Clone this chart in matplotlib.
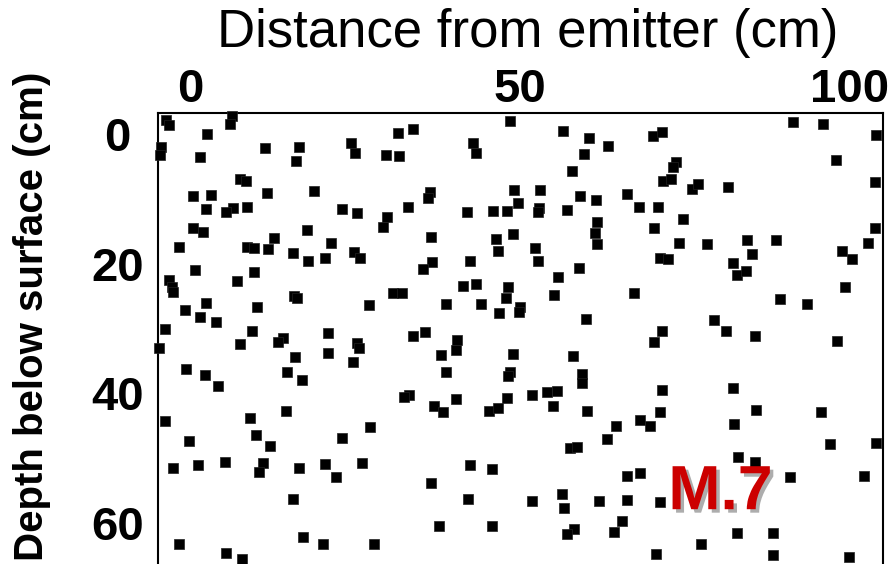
import matplotlib.pyplot as plt
import matplotlib.patheffects as pe

plt.rcParams['font.family'] = ['Liberation Sans', 'DejaVu Sans']

# distance from emitter (cm) and depth below surface (cm) of each sample point
dist = [-3.6, -3.2, 6.4, 6.1, 2.6, -4.4, -4.5, 1.5, 11.4, 16.5, 16.1, 7.6, 8.5, 0.5, 3.2,
        11.7, 18.8, 2.4, 6.5, 5.5, 8.6, 0.5, 2.0, 12.7, 17.7, 21.4, -1.7, 8.6, 9.7, 11.8,
        15.6, 17.9, 20.5, 48.5, 31.5, 33.8, 24.4, 25.0, 29.7, 31.7, 42.9, 43.3, 36.4, 36.1,
        49.1, 23.0, 25.3, 29.8, 29.2, 33.0, 42.0, 45.9, 48.0, 36.5, 46.4, 46.7, 48.9, 24.8,
        25.8, 36.7, 35.3, 42.4, 56.5, 60.5, 63.3, 59.7, 70.2, 71.5, 73.6, 73.2, 57.9, 71.7,
        72.9, 76.1, 53.0, 49.7, 52.9, 52.7, 57.1, 59.1, 61.5, 66.2, 68.0, 70.9, 61.7, 61.4,
        61.7, 74.7, 70.3, 74.1, 52.3, 52.7, 71.2, 72.4, 91.4, 95.9, 103.9, 97.9, 103.8, 77.0,
        81.5, 103.8, 102.7, 78.3, 84.4, 85.2, 88.8, 98.8, 100.3, 82.3, 0.8, 7.1, 9.7, -3.2,
        -2.7, -2.6, 15.8, 16.2, -0.8, 2.4, 1.5, 3.9, 10.2, -3.8, 9.4, 7.6, 14.1, 13.3, 20.9,
        20.9, -4.7, 15.9, -0.6, 2.3, 14.7, 17.0, 4.2, 14.5, 41.4, 43.3, 48.2, 47.9, 46.8,
        30.8, 32.1, 27.1, 38.8, 44.1, 35.6, 33.8, 25.3, 25.6, 40.5, 40.3, 38.0, 24.7, 38.8,
        48.5, 48.2, 48.9, 33.2, 32.4, 37.0, 38.3, 40.3, 48.0, 45.3, 46.7, 58.9, 55.8, 50.0,
        49.8, 55.2, 67.3, 60.0, 71.5, 70.3, 58.0, 59.4, 59.4, 71.5, 51.8, 54.1, 55.6, 55.0,
        60.2, 71.2, 82.9, 84.2, 99.2, 89.4, 93.5, 79.4, 81.2, 85.6, 98.0, 82.3, 85.8, 95.6,
        -3.8, 9.1, -0.2, 10.0, 12.1, -2.6, 1.2, 5.3, 11.1, 10.5, 16.5, 20.5, 22.1, 15.6,
        -1.7, 17.1, 20.2, 5.5, 7.9, 27.3, 23.0, 26.1, 42.4, 45.8, 36.5, 42.1, 37.7, 45.8,
        27.9, 64.5, 68.2, 69.7, 63.2, 57.6, 58.6, 66.2, 68.2, 51.8, 56.4, 56.7, 62.0, 66.2,
        71.2, 65.5, 64.2, 58.2, 57.1, 70.6, 82.4, 97.0, 103.9, 83.0, 85.6, 90.9, 102.1,
        82.9, 88.3, 77.4, 88.3, 99.8]
depth = [-2.2, -1.4, -2.8, -1.5, 0.0, 2.0, 3.2, 3.5, 2.2, 2.0, 4.2, 6.9, 7.3, 9.6, 9.4,
         9.1, 8.8, 11.6, 11.4, 12.0, 11.3, 14.5, 15.1, 16.0, 14.8, 16.8, 17.4, 17.4, 17.6, 17.7,
         18.4, 19.6, 19.1, -2.0, -0.2, -0.8, 1.4, 2.9, 3.2, 3.4, 1.4, 2.9, 9.0, 9.9,
         8.6, 11.6, 12.2, 12.8, 14.4, 11.3, 12.0, 11.9, 11.9, 15.9, 16.2, 18.1, 15.4, 18.2,
         19.1, 19.8, 20.8, 19.6, -0.5, 0.6, 1.9, 3.1, 0.3, -0.3, 4.3, 5.1, 5.7, 7.3,
         6.9, 8.5, 8.6, 10.6, 11.4, 12.0, 11.7, 9.6, 10.2, 9.3, 11.3, 11.3, 13.6, 15.3,
         17.0, 13.1, 14.5, 16.8, 17.6, 19.6, 19.1, 19.3, -1.9, -1.5, 0.2, 4.0, 7.4, 7.7,
         8.2, 14.5, 16.8, 17.0, 16.4, 18.5, 16.4, 18.1, 19.3, 19.9, 21.0, 22.7, 21.3, 22.5,
         23.6, 24.4, 25.0, 25.3, 27.2, 26.1, 28.2, 29.0, 26.7, 30.1, 30.4, 32.4, 31.5, 32.1, 30.7,
         33.8, 33.0, 34.4, 36.3, 37.2, 36.7, 38.0, 38.9, 42.7, 23.5, 23.1, 23.6, 25.3, 27.6,
         24.5, 24.5, 26.4, 26.2, 26.2, 30.6, 31.2, 32.3, 33.0, 31.8, 33.3, 34.1, 35.2, 36.7,
         36.7, 37.3, 34.0, 40.3, 40.6, 42.0, 42.9, 40.9, 40.7, 42.7, 42.3, 20.7, 22.1, 26.7,
         27.5, 24.8, 24.5, 28.5, 30.4, 32.1, 34.3, 37.0, 38.4, 39.5, 40.3, 39.8, 39.7, 42.0,
         42.7, 42.9, 21.8, 21.1, 23.6, 25.5, 26.2, 28.7, 30.4, 31.2, 31.9, 39.2, 42.6, 42.9,
         44.3, 43.8, 47.4, 46.5, 48.1, 51.5, 51.1, 50.6, 50.8, 52.2, 51.5, 50.9, 52.9, 56.3,
         63.3, 62.3, 63.3, 64.7, 65.7, 45.2, 46.9, 50.8, 51.1, 51.7, 53.9, 56.3, 60.6, 60.6,
         63.3, 45.1, 44.1, 45.1, 47.1, 48.5, 48.3, 52.8, 52.3, 56.6, 55.6, 57.7, 56.6, 56.5,
         56.8, 59.7, 61.4, 61.0, 61.7, 64.8, 44.8, 47.8, 47.7, 49.8, 50.6, 52.9, 52.8,
         61.6, 61.6, 63.3, 65.0, 65.3]

x_ticks = [0, 50, 100]
y_ticks = [0, 20, 40, 60]

fig = plt.figure(figsize=(8.95, 5.64), dpi=100)
ax = fig.add_axes([158 / 895, 0, 725 / 895, 451 / 564])

ax.scatter(dist, depth, marker='s', s=58, c='black', edgecolors='#222222',
           linewidths=0.5, clip_on=False, zorder=3)

ax.set_xlim(-4.85, 105.0)
ax.set_ylim(66.4, -3.25)

ax.xaxis.tick_top()
ax.set_xticks(x_ticks)
ax.set_yticks(y_ticks)
ax.tick_params(axis='both', length=0, labelsize=34)
ax.tick_params(axis='x', pad=1)
ax.tick_params(axis='y', pad=29)
for lbl in ax.get_xticklabels() + ax.get_yticklabels():
    lbl.set_fontweight('bold')
for lbl in ax.get_yticklabels():
    lbl.set_horizontalalignment('center')

ax.spines['bottom'].set_visible(False)
for side in ['top', 'left', 'right']:
    ax.spines[side].set_linewidth(1.5)
    ax.spines[side].set_color('black')

fig.text(528 / 895, 1 - 33 / 564, 'Distance from emitter (cm)', fontsize=38,
         ha='center', va='center')
fig.text(32 / 895, 1 - 316 / 564, 'Depth below surface (cm)', fontsize=29,
         fontweight='bold', rotation=90, ha='center', va='center')

# panel label with drop shadow
ax.text(0.704, 0.1215, 'M.7', transform=ax.transAxes, fontsize=45,
        fontweight='bold', color='#cc0000', ha='left', va='baseline', zorder=5,
        path_effects=[pe.SimplePatchShadow(offset=(2.5, -2.5), shadow_rgbFace='#999999',
                                           alpha=0.8), pe.Normal()])

fig.savefig('out.png', dpi=100)
